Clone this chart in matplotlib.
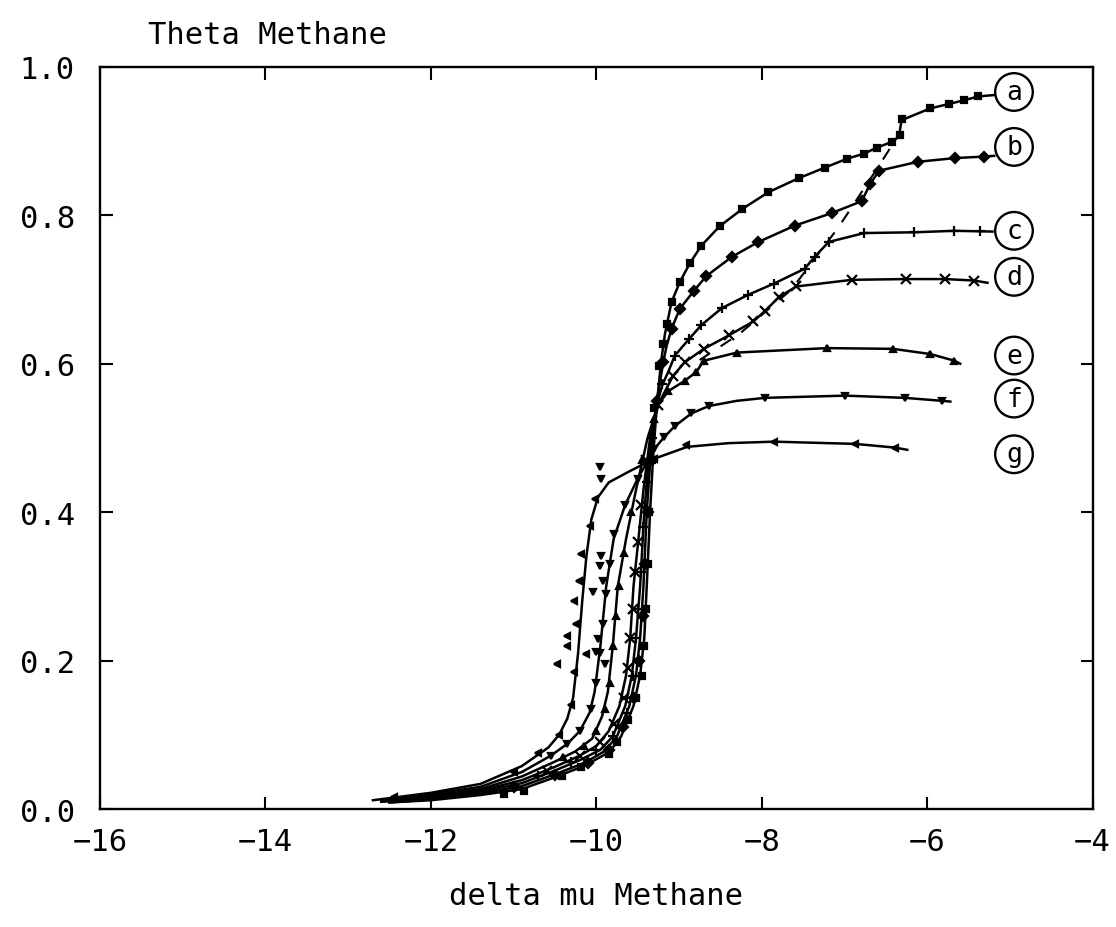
import matplotlib
matplotlib.use("Agg")
import matplotlib.pyplot as plt

plt.rcParams["font.family"] = ["DejaVu Sans Mono"]

# fitted curves (line vertices), one per label
a_x = [-12.5, -12.0, -11.4, -10.9, -10.5, -10.15, -9.84, -9.70, -9.55, -9.47, -9.42, -9.39, -9.35, -9.31, -9.27, -9.22, -9.17, -9.09, -8.99, -8.87, -8.73, -8.51, -8.24, -7.92, -7.55, -7.24, -6.97, -6.76, -6.61, -6.42, -6.34, -6.31, -5.96, -5.73, -5.55, -5.38, -5.18]
a_y = [0.009, 0.012, 0.019, 0.027, 0.043, 0.058, 0.077, 0.098, 0.139, 0.18, 0.23, 0.30, 0.40, 0.48, 0.54, 0.60, 0.64, 0.683, 0.710, 0.735, 0.759, 0.785, 0.808, 0.831, 0.850, 0.864, 0.876, 0.883, 0.891, 0.899, 0.906, 0.928, 0.944, 0.950, 0.955, 0.960, 0.962]

b_x = [-12.5, -12.0, -11.4, -10.9, -10.5, -10.15, -9.9, -9.75, -9.6, -9.52, -9.47, -9.43, -9.39, -9.34, -9.27, -9.19, -9.15, -9.09, -8.99, -8.82, -8.67, -8.36, -8.04, -7.60, -7.15, -6.79, -6.69, -6.58, -6.11, -5.66, -5.31, -5.19]
b_y = [0.009, 0.013, 0.021, 0.031, 0.047, 0.062, 0.078, 0.098, 0.139, 0.18, 0.23, 0.30, 0.40, 0.48, 0.55, 0.602, 0.624, 0.647, 0.674, 0.698, 0.718, 0.744, 0.764, 0.786, 0.803, 0.819, 0.842, 0.860, 0.872, 0.877, 0.879, 0.880]

c_x = [-12.6, -12.0, -11.4, -10.9, -10.5, -10.2, -9.95, -9.8, -9.65, -9.57, -9.52, -9.47, -9.42, -9.36, -9.28, -9.2, -9.13, -9.05, -8.88, -8.73, -8.48, -8.16, -7.85, -7.48, -7.36, -7.19, -6.76, -6.16, -5.67, -5.21]
c_y = [0.010, 0.015, 0.023, 0.035, 0.052, 0.066, 0.080, 0.098, 0.139, 0.18, 0.23, 0.30, 0.40, 0.48, 0.54, 0.572, 0.589, 0.611, 0.633, 0.652, 0.675, 0.693, 0.708, 0.728, 0.744, 0.764, 0.776, 0.777, 0.779, 0.778]

d_x = [-12.6, -12.0, -11.4, -10.9, -10.5, -10.2, -10.0, -9.85, -9.72, -9.64, -9.59, -9.55, -9.49, -9.43, -9.35, -9.25, -9.15, -9.07, -8.93, -8.70, -8.40, -8.10, -7.96, -7.79, -7.58, -6.91, -6.25, -5.78, -5.43, -5.27]
d_y = [0.010, 0.016, 0.025, 0.039, 0.057, 0.072, 0.085, 0.105, 0.139, 0.18, 0.23, 0.30, 0.364, 0.43, 0.50, 0.545, 0.567, 0.584, 0.602, 0.620, 0.638, 0.657, 0.671, 0.690, 0.704, 0.713, 0.714, 0.714, 0.712, 0.709]

e_x = [-12.6, -12.0, -11.4, -10.9, -10.5, -10.25, -10.05, -9.93, -9.86, -9.80, -9.74, -9.64, -9.52, -9.38, -9.25, -9.13, -8.93, -8.79, -8.70, -8.30, -7.21, -6.41, -5.96, -5.67, -5.60]
e_y = [0.011, 0.018, 0.027, 0.044, 0.064, 0.078, 0.095, 0.125, 0.158, 0.22, 0.30, 0.364, 0.43, 0.50, 0.545, 0.563, 0.577, 0.589, 0.604, 0.615, 0.621, 0.620, 0.613, 0.604, 0.600]

f_x = [-12.6, -12.0, -11.4, -10.9, -10.55, -10.35, -10.2, -10.08, -10.02, -9.95, -9.88, -9.79, -9.65, -9.5, -9.3, -9.18, -9.05, -8.85, -8.64, -8.3, -7.96, -6.99, -6.27, -5.82, -5.72]
f_y = [0.011, 0.020, 0.030, 0.050, 0.072, 0.088, 0.105, 0.13, 0.158, 0.22, 0.30, 0.364, 0.41, 0.445, 0.485, 0.501, 0.516, 0.533, 0.543, 0.550, 0.554, 0.557, 0.554, 0.550, 0.549]

g_x = [-12.7, -12.0, -11.4, -10.9, -10.58, -10.45, -10.35, -10.28, -10.22, -10.17, -10.12, -10.06, -9.98, -9.85, -9.6, -9.3, -8.9, -8.4, -7.85, -6.87, -6.39, -6.24]
g_y = [0.012, 0.022, 0.034, 0.058, 0.083, 0.10, 0.122, 0.15, 0.21, 0.28, 0.34, 0.39, 0.42, 0.44, 0.455, 0.472, 0.488, 0.493, 0.495, 0.492, 0.487, 0.484]

# simulated points (markers)
am_x = [-5.38, -5.55, -5.73, -5.96, -6.30, -6.33, -6.42, -6.61, -6.76, -6.97, -7.24, -7.55, -7.92, -8.24, -8.51, -8.73, -8.87, -8.99, -9.09, -9.15, -9.19, -9.24, -9.30, -9.33, -9.36, -9.38, -9.40, -9.42, -9.45, -9.52, -9.62, -9.75, -9.85, -10.18, -10.42, -10.87, -11.12]
am_y = [0.961, 0.955, 0.950, 0.944, 0.929, 0.908, 0.899, 0.891, 0.883, 0.876, 0.864, 0.850, 0.831, 0.808, 0.785, 0.759, 0.735, 0.710, 0.683, 0.654, 0.627, 0.597, 0.54, 0.47, 0.40, 0.33, 0.27, 0.22, 0.18, 0.15, 0.12, 0.09, 0.074, 0.057, 0.045, 0.024, 0.020]

bm_x = [-5.31, -5.66, -6.11, -6.58, -6.69, -6.79, -7.15, -7.60, -8.04, -8.36, -8.67, -8.82, -8.99, -9.09, -9.19, -9.27, -9.33, -9.37, -9.41, -9.44, -9.48, -9.55, -9.68, -9.85, -10.1, -10.5, -11.0]
bm_y = [0.879, 0.877, 0.872, 0.860, 0.842, 0.819, 0.803, 0.786, 0.764, 0.744, 0.718, 0.698, 0.674, 0.647, 0.602, 0.55, 0.47, 0.40, 0.33, 0.26, 0.20, 0.15, 0.11, 0.08, 0.062, 0.046, 0.030]

cm_x = [-5.36, -5.67, -6.16, -6.76, -7.19, -7.36, -7.48, -7.85, -8.16, -8.48, -8.73, -8.88, -9.05, -9.2, -9.33, -9.39, -9.43, -9.46, -9.49, -9.52, -9.56, -9.63, -9.8, -10.0, -10.3, -10.7]
cm_y = [0.779, 0.779, 0.777, 0.776, 0.764, 0.744, 0.728, 0.708, 0.693, 0.675, 0.652, 0.633, 0.611, 0.572, 0.50, 0.44, 0.38, 0.32, 0.27, 0.23, 0.18, 0.13, 0.098, 0.080, 0.063, 0.045]

dm_x = [-5.43, -5.78, -6.25, -6.91, -7.58, -7.79, -7.96, -8.10, -8.40, -8.70, -8.93, -9.07, -9.25, -9.40, -9.46, -9.50, -9.53, -9.56, -9.59, -9.62, -9.67, -9.78, -9.95, -10.2, -10.6]
dm_y = [0.712, 0.714, 0.714, 0.713, 0.704, 0.690, 0.671, 0.657, 0.638, 0.620, 0.602, 0.584, 0.545, 0.47, 0.41, 0.36, 0.32, 0.27, 0.23, 0.19, 0.15, 0.115, 0.09, 0.072, 0.052]

em_x = [-5.67, -5.96, -6.41, -7.21, -8.30, -8.70, -8.79, -8.93, -9.13, -9.30, -9.45, -9.58, -9.67, -9.72, -9.76, -9.80, -9.84, -9.9, -10.0, -10.15, -10.4]
em_y = [0.604, 0.613, 0.620, 0.621, 0.615, 0.604, 0.589, 0.577, 0.563, 0.525, 0.47, 0.40, 0.345, 0.30, 0.26, 0.22, 0.17, 0.135, 0.105, 0.085, 0.070]

fm_x = [-5.82, -6.27, -6.99, -7.96, -8.64, -8.85, -9.05, -9.18, -9.3, -9.5, -9.65, -9.78, -9.84, -9.88, -9.92, -9.96, -10.0, -10.06, -10.2, -10.35, -10.55, -9.96, -9.94, -9.94, -9.96, -9.92, -10.04, -9.98, -10.0, -9.90]
fm_y = [0.550, 0.554, 0.557, 0.554, 0.543, 0.533, 0.516, 0.501, 0.485, 0.445, 0.41, 0.37, 0.33, 0.29, 0.25, 0.21, 0.17, 0.135, 0.105, 0.088, 0.072, 0.461, 0.445, 0.341, 0.327, 0.307, 0.292, 0.229, 0.212, 0.195]

gm_x = [-6.39, -6.87, -7.85, -8.91, -9.30, -10.02, -10.08, -10.18, -10.21, -10.27, -10.24, -10.36, -10.36, -10.12, -10.48, -10.27, -10.3, -10.45, -10.7, -11.0, -12.45]
gm_y = [0.487, 0.492, 0.495, 0.490, 0.472, 0.418, 0.381, 0.344, 0.307, 0.28, 0.25, 0.233, 0.22, 0.209, 0.195, 0.185, 0.14, 0.10, 0.075, 0.050, 0.016]

# dashed transition line
dash_x = [-8.75, -8.27, -7.64, -7.07, -6.58, -6.33]
dash_y = [0.605, 0.640, 0.700, 0.784, 0.867, 0.911]

labels = ["a", "b", "c", "d", "e", "f", "g"]
label_y = [0.966, 0.892, 0.779, 0.717, 0.611, 0.553, 0.478]

curves = [(a_x, a_y, am_x, am_y, "s"), (b_x, b_y, bm_x, bm_y, "D"),
          (c_x, c_y, cm_x, cm_y, "+"), (d_x, d_y, dm_x, dm_y, "x"),
          (e_x, e_y, em_x, em_y, "^"), (f_x, f_y, fm_x, fm_y, "v"),
          (g_x, g_y, gm_x, gm_y, "<")]

fig = plt.figure(figsize=(11.16, 9.28), dpi=100)
ax = fig.add_axes([0.0896, 0.127, 0.8894, 0.8])

for lx, ly, mx, my, mk in curves:
    ax.plot(lx, ly, color="black", lw=1.8)
    ms = 6.5 if mk in "+x" else 5
    ax.plot(mx, my, ls="none", marker=mk, color="black", ms=ms, mew=1.6)

ax.plot(dash_x, dash_y, color="black", lw=1.5, ls=(0, (6, 6)))

for lab, ly in zip(labels, label_y):
    ax.text(-4.95, ly, lab, ha="center", va="center", fontsize=19,
            bbox=dict(boxstyle="circle,pad=0.22", fc="white", ec="black", lw=1.7))

ax.set_xlim(-16, -4)
ax.set_ylim(0, 1.0)
ax.set_xticks([-16, -14, -12, -10, -8, -6, -4])
ax.set_xticklabels(["\u221216", "\u221214", "\u221212", "\u221210", "\u22128", "\u22126", "\u22124"])
ax.set_yticks([0, 0.2, 0.4, 0.6, 0.8, 1.0])
ax.set_yticklabels(["0.0", "0.2", "0.4", "0.6", "0.8", "1.0"])
ax.tick_params(direction="in", length=9, width=1.5, top=True, right=True,
               labelsize=22)
ax.tick_params(axis="x", pad=13)
ax.tick_params(axis="y", pad=18)
for s in ax.spines.values():
    s.set_linewidth(1.7)

ax.set_xlabel("delta mu Methane", fontsize=22, labelpad=18)
fig.text(148 / 1116, 1 - 44 / 928, "Theta Methane", fontsize=22, ha="left", va="baseline")

fig.savefig("out.png", dpi=100)
